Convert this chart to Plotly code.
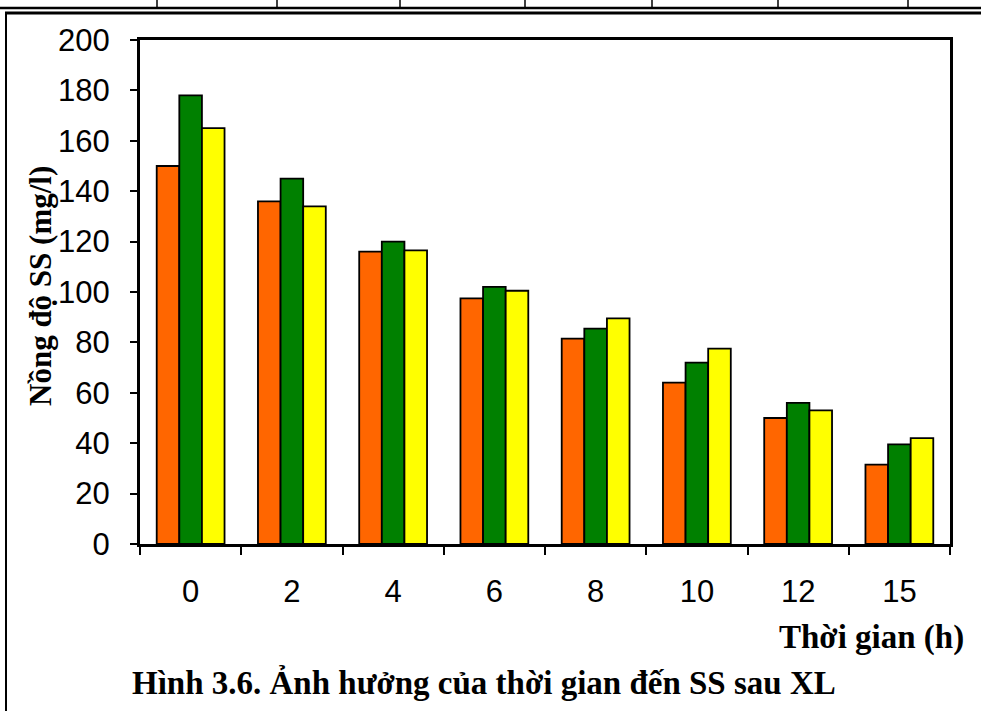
import plotly.graph_objects as go

# ---- data ----
time_labels = ["0", "2", "4", "6", "8", "10", "12", "15"]
series_1 = [150, 136, 116, 97.5, 81.5, 64, 50, 31.5]
series_2 = [178, 145, 120, 102, 85.5, 72, 56, 39.5]
series_3 = [165, 134, 116.5, 100.5, 89.5, 77.5, 53, 42]
series_names = ["Mẫu 1", "Mẫu 2", "Mẫu 3"]
series_colors = ["#FF6600", "#008000", "#FFFF00"]
y_ticks = [0, 20, 40, 60, 80, 100, 120, 140, 160, 180, 200]

W, H = 981, 711
L, R, T, B = 140, 950, 40, 544

def px(x):
    return (x - L) / (R - L)

def py(y):
    return (B - y) / (B - T)

fig = go.Figure()
for name, vals, col in zip(series_names, [series_1, series_2, series_3], series_colors):
    fig.add_trace(go.Bar(
        x=time_labels, y=vals, name=name,
        marker=dict(color=col, line=dict(color="black", width=1.8)),
    ))

serif = "Liberation Serif, Times New Roman, serif"
sans = "Liberation Sans, Arial, sans-serif"

fig.update_layout(
    width=W, height=H,
    margin=dict(l=L, r=W - R, t=T, b=H - B, pad=0),
    paper_bgcolor="white", plot_bgcolor="white",
    barmode="group", bargap=0.33, bargroupgap=0,
    showlegend=False,
    font=dict(family=sans, color="black"),
)
fig.update_xaxes(
    type="category", showline=True, linecolor="black", linewidth=3, mirror=True,
    ticks="outside", tickson="boundaries", ticklen=8, tickwidth=2, tickcolor="black",
    tickfont=dict(family=sans, size=31, color="black"), ticklabelstandoff=18,
    showgrid=False,
)
fig.update_yaxes(
    range=[0, 200], tickvals=y_ticks, showline=True, linecolor="black", linewidth=3,
    mirror=True, ticks="outside", ticklen=7, tickwidth=2, tickcolor="black",
    tickfont=dict(family=sans, size=31, color="black"), ticklabelstandoff=14,
    showgrid=False, zeroline=False,
)

annotations = [
    dict(text="<b>Nồng độ SS (mg/l)</b>", x=px(40), y=py(286), xref="paper", yref="paper",
         textangle=-90, showarrow=False, font=dict(family=serif, size=31, color="black"),
         xanchor="center", yanchor="middle"),
    dict(text="<b>Thời gian (h)</b>", x=px(966), y=py(637), xref="paper", yref="paper",
         showarrow=False, font=dict(family=serif, size=33, color="black"),
         xanchor="right", yanchor="middle"),
    dict(text="<b>Hình 3.6. Ảnh hưởng của thời gian đến SS sau XL</b>", x=px(130), y=py(682),
         xref="paper", yref="paper", showarrow=False,
         font=dict(family=serif, size=33, color="black"), xanchor="left", yanchor="middle"),
]
fig.update_layout(annotations=annotations)

shapes = [
    # document table line at top
    dict(type="line", xref="paper", yref="paper", x0=px(0), x1=px(981), y0=py(8), y1=py(8),
         line=dict(color="black", width=2.5)),
    # figure box
    dict(type="line", xref="paper", yref="paper", x0=px(5), x1=px(981), y0=py(13), y1=py(13),
         line=dict(color="black", width=3)),
    dict(type="line", xref="paper", yref="paper", x0=px(6), x1=px(6), y0=py(13), y1=py(711),
         line=dict(color="black", width=2)),
]
for xv in [157, 277, 400, 525, 652, 778, 908]:
    shapes.append(dict(type="line", xref="paper", yref="paper", x0=px(xv), x1=px(xv),
                       y0=py(0), y1=py(8), line=dict(color="black", width=1.5)))
fig.update_layout(shapes=shapes)

fig.write_html(
    "out.html",
    config={"displayModeBar": False},
    post_script="document.body.style.margin='0';document.body.style.overflow='hidden';",
)
